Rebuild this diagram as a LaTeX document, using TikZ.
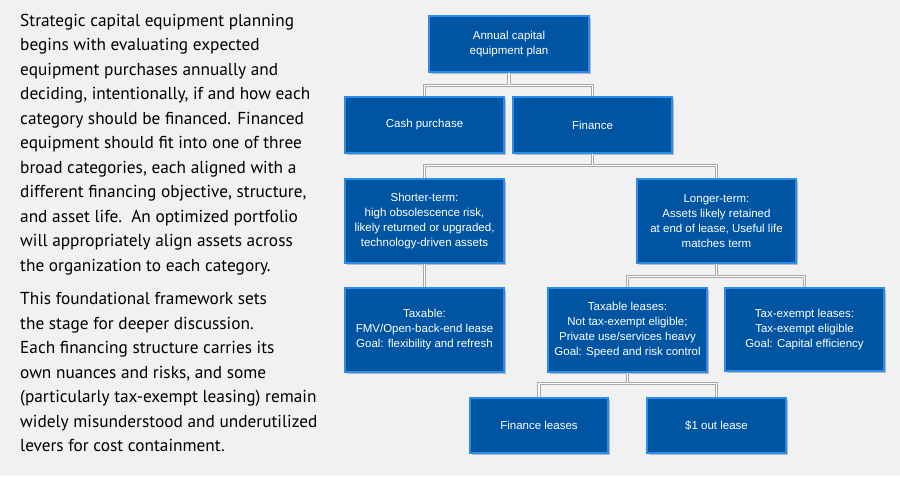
\documentclass[tikz,border=0pt]{standalone}
\usepackage{fontspec}
\setmainfont{Liberation Sans}
\newfontfamily\bodyfont{PT Sans}
\usetikzlibrary{calc,shadows}

\definecolor{bg}{HTML}{F1F1F1}
\definecolor{boxblue}{HTML}{0055A3}
\definecolor{boxedge}{HTML}{2A8CEB}
\definecolor{linegray}{HTML}{A8A8A8}

\tikzset{
  planbox/.style={draw=boxedge,line width=1.2pt,fill=boxblue,text=white,
    align=center,inner sep=0pt,font=\fontsize{11.5}{15}\selectfont,
    drop shadow={shadow xshift=1.5pt,shadow yshift=-1.5pt,fill=black!45,opacity=0.55}},
  conn/.style={draw=linegray,line width=0.9pt,double=white,double distance=1.4pt},
  para/.style={anchor=north west,inner sep=0pt,align=left,
    font=\bodyfont\fontsize{17.3}{24.5}\selectfont}
}

\begin{document}
\begin{tikzpicture}[x=1pt,y=-1pt]
  \useasboundingbox (0,0) rectangle (900,490);
  \fill[white] (0,0) rectangle (900,490);
  \fill[bg] (0,0) rectangle (900,476);

  % left text
  \node[para] (intro) at (20,13.5) {Strategic capital equipment planning\\
    begins with evaluating expected\\
    equipment purchases annually and\\
    deciding, intentionally, if and how each\\
    category should be financed. Financed\\
    equipment should fit into one of three\\
    broad categories, each aligned with a\\
    different financing objective, structure,\\
    and asset life.\ \ An optimized portfolio\\
    will appropriately align assets across\\
    the organization to each category.};
  \node[para] (outro) at (20,292.5) {This foundational framework sets\\
    the stage for deeper discussion.\\
    Each financing structure carries its\\
    own nuances and risks, and some\\
    (particularly tax-exempt leasing) remain\\
    widely misunderstood and underutilized\\
    levers for cost containment.};

  % boxes
  \node[planbox,minimum width=160pt,minimum height=56pt] (annual) at (509,44) {Annual capital\\equipment plan};
  \node[planbox,minimum width=159pt,minimum height=56pt] (cash) at (424.5,125) {Cash purchase};
  \node[planbox,minimum width=159pt,minimum height=56pt] (finance) at (592.5,125) {Finance};
  \node[planbox,minimum width=159pt,minimum height=84pt] (shorter) at (424.5,221) {Shorter-term:\\high obsolescence risk,\\likely returned or upgraded,\\technology-driven assets};
  \node[planbox,minimum width=159pt,minimum height=84pt] (longer) at (716.5,221) {Longer-term:\\Assets likely retained\\at end of lease, Useful life\\matches term};
  \node[planbox,minimum width=159pt,minimum height=84pt] (taxable) at (424.5,330) {Taxable:\\FMV/Open-back-end lease\\Goal: flexibility and refresh};
  \node[planbox,minimum width=159pt,minimum height=84pt] (taxlease) at (627.5,330) {Taxable leases:\\Not tax-exempt eligible;\\Private use/services heavy\\Goal: Speed and risk control};
  \node[planbox,minimum width=159pt,minimum height=83pt] (exempt) at (804.5,329.5) {Tax-exempt leases:\\Tax-exempt eligible\\Goal: Capital efficiency};
  \node[planbox,minimum width=138pt,minimum height=55pt] (finlease) at (539,425.5) {Finance leases};
  \node[planbox,minimum width=139pt,minimum height=55pt] (oneout) at (716.5,425.5) {\$1 out lease};

  % connectors
  \coordinate (j1) at ([yshift=-13pt]annual.south);
  \coordinate (j2) at ([yshift=-12pt]finance.south);
  \coordinate (j3) at ([yshift=-13pt]longer.south);
  \coordinate (j4) at ([yshift=-11pt]taxlease.south);
  \draw[conn] (annual.south) -- (j1) (cash.north) |- (j1) -| (finance.north)
    (finance.south) -- (j2) (shorter.north) |- (j2) -| (longer.north)
    (shorter.south) -- (taxable.north)
    (longer.south) -- (j3) (taxlease.north) |- (j3) -| (exempt.north)
    (taxlease.south) -- (j4) (finlease.north) |- (j4) -| (oneout.north);
\end{tikzpicture}
\end{document}
